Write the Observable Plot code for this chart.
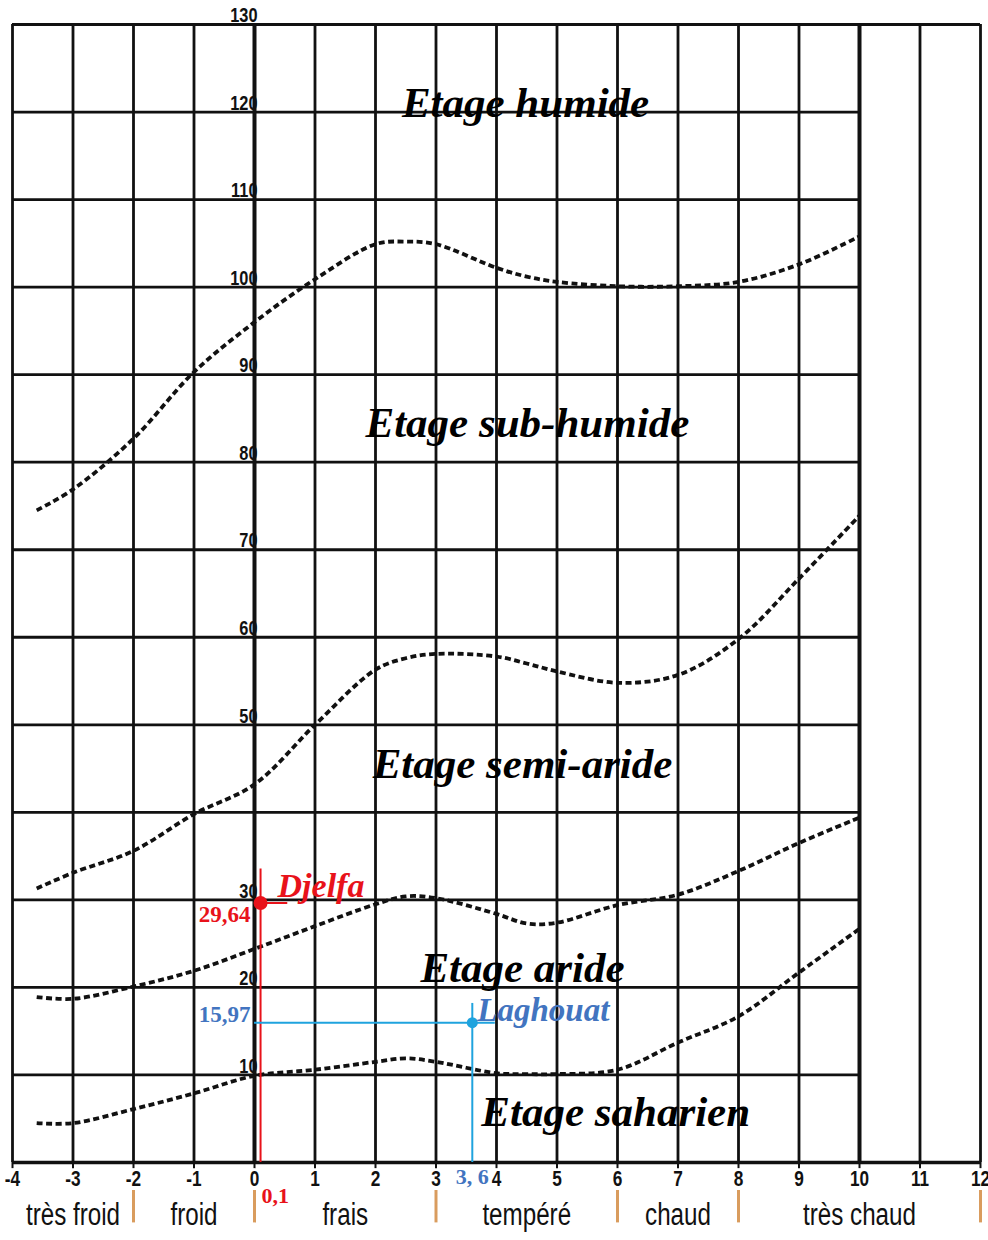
<!DOCTYPE html>
<html><head><meta charset="utf-8">
<script src="https://cdn.jsdelivr.net/npm/d3@7"></script>
<script src="https://cdn.jsdelivr.net/npm/@observablehq/plot@0.6"></script>
<style>body{margin:0;background:#fff}#chart svg{display:block}</style>
</head><body><div id="chart"></div>
<script>
// x: m (°C), y: Q2 (Emberger)
const xTicks = [-4,-3,-2,-1,0,1,2,3,4,5,6,7,8,9,10,11,12];
const yGridLevels = [10,20,30,40,50,60,70,80,90,100,110,120];
const yTickLabels = [130,120,110,100,90,80,70,60,50,30,20,10];
const categoryNames = ["très froid","froid","frais","tempéré","chaud","très chaud"];
const categoryBounds = [-4,-2,0,3,6,8,12];

const curveX = [-3.6,-3,-2,-1,0,1,2,2.5,3,4,4.5,5,6,7,8,9,10];
const limitHumide    = [74.5,76.9,82.7,90.3,96.0,100.9,104.9,105.2,104.9,102.2,101.2,100.6,100.1,100.1,100.6,102.6,105.8];
const limitSubHumide = [31.3,33.1,35.6,39.8,43.2,50.0,56.3,57.6,58.1,57.8,57.0,56.1,54.8,55.7,59.8,66.7,73.9];
const limitSemiAride = [18.9,18.7,20.1,21.9,24.4,27.0,29.5,30.4,30.2,28.4,27.3,27.4,29.4,30.6,33.3,36.5,39.4];
const limitAride     = [4.5,4.5,6.1,7.9,9.9,10.6,11.5,11.9,11.5,10.2,10.1,10.1,10.6,13.7,16.7,21.7,26.7];

const zoneNames = ["Etage humide","Etage sub-humide","Etage semi-aride","Etage aride","Etage saharien"];
const zoneX = [4.48,4.51,4.43,4.43,5.97];
const zoneQ = [121.0,84.4,45.5,22.2,5.7];

const stationNames = ["Djelfa","Laghouat"];
const stationM = [0.1,3.6];
const stationQ = [29.64,15.97];
const stationMLabel = ["0,1","3, 6"];
const stationQLabel = ["29,64","15,97"];

const curves = [limitHumide, limitSubHumide, limitSemiAride, limitAride]
  .flatMap((arr, k) => arr.map((q, i) => ({k, x: curveX[i], q})));
const zones = zoneNames.map((name, i) => ({name, x: zoneX[i], q: zoneQ[i]}));
const cats = categoryNames.map((name, i) => ({name, x: (categoryBounds[i] + categoryBounds[i+1]) / 2}));
const djelfa = [{name: stationNames[0], x: stationM[0], q: stationQ[0], ml: stationMLabel[0], ql: stationQLabel[0]}];
const laghouat = [{name: stationNames[1], x: stationM[1], q: stationQ[1], ml: stationMLabel[1], ql: stationQLabel[1]}];

const RED = "#e8121a", BLUE_LINE = "#1fa3de", BLUE_TXT = "#4274c0";
const SANS = "'Liberation Sans',Arial,sans-serif";
const SERIF = "'Liberation Serif','Times New Roman',serif";

const chart = Plot.plot({
  width: 988, height: 1240,
  marginLeft: 12, marginRight: 8, marginTop: 24, marginBottom: 78,
  x: {domain: [-4, 12], axis: null},
  y: {domain: [0, 130], axis: null},
  style: {background: "#fff"},
  marks: [
    // grid
    Plot.ruleX(xTicks, {y1: 0, y2: 130, stroke: "#111", strokeWidth: 2.8}),
    Plot.ruleY(yGridLevels, {x1: -4, x2: 10, stroke: "#111", strokeWidth: 2.8}),
    Plot.ruleY([130], {x1: -4, x2: 12, stroke: "#111", strokeWidth: 3}),
    Plot.ruleY([0], {x1: -4, x2: 12, stroke: "#111", strokeWidth: 3.6}),
    Plot.ruleX([0, 10], {y1: 0, y2: 130, stroke: "#111", strokeWidth: 4}),
    Plot.ruleX(xTicks, {y1: 0, y2: -0.7, stroke: "#111", strokeWidth: 2}),
    // limit curves
    Plot.line(curves, {x: "x", y: "q", z: "k", curve: "catmull-rom", stroke: "#111",
      strokeWidth: 3.8, strokeDasharray: "6,3.5", strokeLinecap: "butt"}),
    // y labels
    Plot.text(yTickLabels, {x: 0, y: d => d, text: d => String(d), textAnchor: "end", dx: 3, dy: -9,
      fontFamily: SANS, fontSize: 21, fontWeight: "bold", fill: "#111"}),
    // x tick labels
    Plot.text(xTicks, {x: d => d, y: 0, text: d => String(d), dy: 16,
      fontFamily: SANS, fontSize: 22, fontWeight: "bold", fill: "#111"}),
    // category separators and names
    Plot.ruleX(categoryBounds.slice(1), {y1: -3.2, y2: -6.9, stroke: "#d99c5e", strokeWidth: 3}),
    Plot.text(cats, {x: "x", y: 0, text: "name", dy: 53,
      fontFamily: SANS, fontSize: 31, fill: "#111"}),
    // zone names
    Plot.text(zones, {x: "x", y: "q", text: "name", fontFamily: SERIF, fontSize: 43,
      fontWeight: "bold", fontStyle: "italic", fill: "#000"}),
    // Djelfa
    Plot.ruleX(djelfa, {x: "x", y1: 0, y2: d => d.q + 3.9, stroke: RED, strokeWidth: 2}),
    Plot.ruleY(djelfa, {y: "q", x1: 0, x2: d => d.x + 0.45, stroke: RED, strokeWidth: 2}),
    Plot.dot(djelfa, {x: "x", y: "q", r: 7, fill: RED}),
    Plot.text(djelfa, {x: "x", y: "q", text: "name", textAnchor: "start", dx: 17, dy: -17,
      fontFamily: SERIF, fontSize: 34, fontWeight: "bold", fontStyle: "italic", fill: RED}),
    Plot.text(djelfa, {x: 0, y: "q", text: "ql", textAnchor: "end", dx: -4, dy: 12,
      fontFamily: SERIF, fontSize: 23, fontWeight: "bold", fill: RED}),
    Plot.text(djelfa, {x: "x", y: 0, text: "ml", textAnchor: "start", dx: 1, dy: 33,
      fontFamily: SERIF, fontSize: 22, fontWeight: "bold", fill: RED}),
    // Laghouat
    Plot.ruleX(laghouat, {x: "x", y1: 0, y2: d => d.q + 2.2, stroke: BLUE_LINE, strokeWidth: 2}),
    Plot.ruleY(laghouat, {y: "q", x1: 0, x2: d => d.x + 0.38, stroke: BLUE_LINE, strokeWidth: 2}),
    Plot.dot(laghouat, {x: "x", y: "q", r: 5.5, fill: BLUE_LINE}),
    Plot.text(laghouat, {x: "x", y: "q", text: "name", textAnchor: "start", dx: 5, dy: -12,
      fontFamily: SERIF, fontSize: 33, fontWeight: "bold", fontStyle: "italic", fill: BLUE_TXT}),
    Plot.text(laghouat, {x: 0, y: "q", text: "ql", textAnchor: "end", dx: -4, dy: -8,
      fontFamily: SERIF, fontSize: 23, fontWeight: "bold", fill: BLUE_TXT}),
    Plot.text(laghouat, {x: "x", y: 0, text: "ml", dy: 14,
      fontFamily: SERIF, fontSize: 22, fontWeight: "bold", fill: BLUE_TXT})
  ]
});
document.getElementById("chart").appendChild(chart);
// condense the sans-serif labels horizontally (narrow typeface look)
d3.select(chart).selectAll("text").each(function() {
  const ff = getComputedStyle(this).fontFamily || "";
  if (!ff.includes("Liberation Sans")) return;
  const len = this.getComputedTextLength();
  if (len > 0) {
    this.setAttribute("textLength", (len * 0.78).toFixed(1));
    this.setAttribute("lengthAdjust", "spacingAndGlyphs");
  }
});
</script>
</body></html>
